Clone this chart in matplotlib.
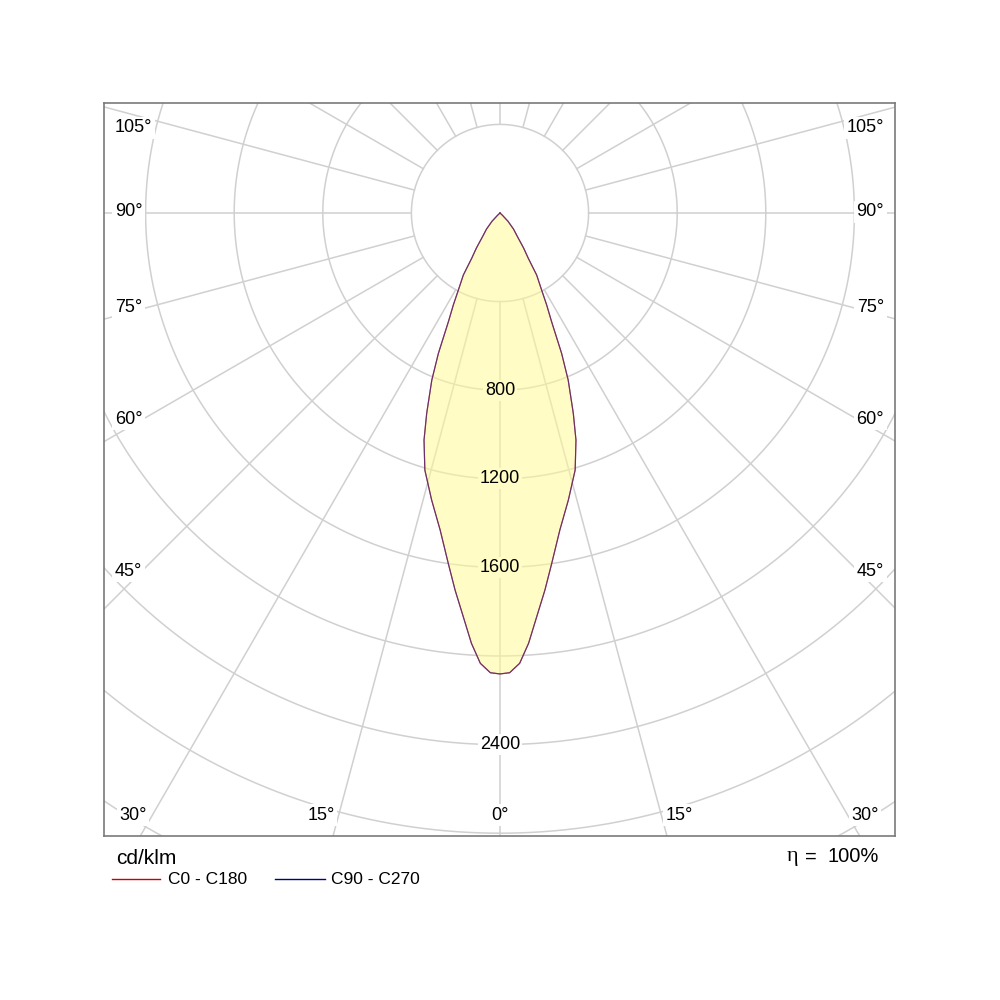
import numpy as np
import matplotlib
matplotlib.use("Agg")
import matplotlib.pyplot as plt
from matplotlib.lines import Line2D

plt.rcParams['font.family'] = ['Liberation Sans', 'DejaVu Sans']

# ---------------- data ----------------
gamma_deg = [0, 1.2, 2.5, 3.8, 5.2, 6.8, 8.4, 10.7, 13.4, 16.3, 18.5, 20.1, 22.2, 23.7,
             25.4, 26.9, 28.4, 30.6, 32, 34, 36, 40, 44, 47, 50, 60, 90, 120, 150, 180]
c0_c180 = [2081, 2076, 2035, 1947, 1830, 1714, 1599, 1456, 1332, 1209, 1081, 963, 815, 692,
           543, 466, 395, 325, 241, 190, 140, 95, 52, 15, 0, 0, 0, 0, 0, 0]
c90_c270 = [2081, 2076, 2035, 1947, 1830, 1714, 1599, 1456, 1332, 1209, 1081, 963, 815, 692,
            543, 466, 395, 325, 241, 190, 140, 95, 52, 15, 0, 0, 0, 0, 0, 0]
ring_values = [400, 800, 1200, 1600, 2000, 2400, 2800, 3200, 3600, 4000]
ring_labels = [800, 1200, 1600, 2400]
angle_labels_side = [105, 90, 75, 60, 45]
angle_labels_bottom = [30, 15, 0, 15, 30]
series_names = ["C0 - C180", "C90 - C270"]
eta_text = "100%"
unit_text = "cd/klm"

# ---------------- layout ----------------
K = 0.2215           # pixels per cd/klm
CX, CY = 500, 213    # pole position in pixels
L, R, T, B = 104, 895, 103, 836

fig = plt.figure(figsize=(10, 10), dpi=100)
ax = fig.add_axes([L / 1000, 1 - B / 1000, (R - L) / 1000, (B - T) / 1000])
ax.set_xlim((L - CX) / K, (R - CX) / K)
ax.set_ylim(-(B - CY) / K, -(T - CY) / K)
ax.set_xticks([]); ax.set_yticks([])
for s in ax.spines.values():
    s.set_color('#7a7a7a'); s.set_linewidth(1.2)

def px(x, y):
    return (x - CX) / K, -(y - CY) / K

grid_c = '#d0d0d0'
t = np.linspace(0, 2 * np.pi, 721)
for v in ring_values:
    ax.plot(v * np.cos(t), v * np.sin(t), color=grid_c, lw=1.1, zorder=2)
for a in range(0, 360, 15):
    ar = np.radians(a)
    ax.plot([400 * np.sin(ar), 4000 * np.sin(ar)], [-400 * np.cos(ar), -4000 * np.cos(ar)],
            color=grid_c, lw=1.1, zorder=2)

def curve(vals):
    g = np.radians(np.array(gamma_deg, dtype=float))
    v = np.array(vals, dtype=float)
    gf = np.concatenate([-g[::-1], g[1:]])
    vf = np.concatenate([v[::-1], v[1:]])
    return vf * np.sin(gf), -vf * np.cos(gf)

x0, y0 = curve(c0_c180)
x1, y1 = curve(c90_c270)
ax.fill(x0, y0, facecolor='#fffa96', alpha=0.55, edgecolor='none', zorder=3)
ax.plot(x0, y0, color='#c03030', lw=0.85, zorder=4)
ax.plot(x1, y1, color='#303090', lw=0.85, alpha=0.6, zorder=5)

# value labels
for v in ring_labels:
    inside = v < max(c0_c180)
    fc = '#fffcc5' if inside else 'white'
    ax.text(0, -v, str(v), ha='center', va='center', fontsize=13, zorder=6,
            bbox=dict(boxstyle='square,pad=0.1', fc=fc, ec='none'))

# side angle labels
side_y = [128, 212, 308, 419, 571]
for a, yy in zip(angle_labels_side, side_y):
    xl, yl = px(115, yy)
    ax.text(xl, yl, f"{a}°", ha='left', va='center', fontsize=13, zorder=6,
            bbox=dict(boxstyle='square,pad=0.15', fc='white', ec='none'))
    xr, yr = px(884, yy)
    ax.text(xr, yr, f"{a}°", ha='right', va='center', fontsize=13, zorder=6,
            bbox=dict(boxstyle='square,pad=0.15', fc='white', ec='none'))

bottom_x = [133, 321, 500, 679, 865]
for a, xx in zip(angle_labels_bottom, bottom_x):
    xb, yb = px(xx, 815)
    ax.text(xb, yb, f"{a}°", ha='center', va='center', fontsize=13, zorder=6,
            bbox=dict(boxstyle='square,pad=0.15', fc='white', ec='none'))

# texts below the frame
fig.text(116 / 1000, 1 - 858 / 1000, unit_text, ha='left', va='center', fontsize=15)
fig.add_artist(Line2D([112 / 1000, 160 / 1000], [1 - 879 / 1000] * 2, color='#cc0000', lw=1.0,
                      transform=fig.transFigure))
fig.text(168 / 1000, 1 - 879 / 1000, series_names[0], ha='left', va='center', fontsize=12.5)
fig.add_artist(Line2D([275 / 1000, 325 / 1000], [1 - 879 / 1000] * 2, color='#000080', lw=1.0,
                      transform=fig.transFigure))
fig.text(331 / 1000, 1 - 879 / 1000, series_names[1], ha='left', va='center', fontsize=12.5)

fig.text(879 / 1000, 1 - 857 / 1000, eta_text, ha='right', va='center', fontsize=14.5)
fig.text(817 / 1000, 1 - 857 / 1000, "=", ha='right', va='center', fontsize=14.5)
fig.text(798 / 1000, 1 - 857 / 1000, "η", ha='right', va='center', fontsize=16,
         family=['Liberation Serif', 'DejaVu Serif'])

fig.savefig("out.png", dpi=100, facecolor='white')
